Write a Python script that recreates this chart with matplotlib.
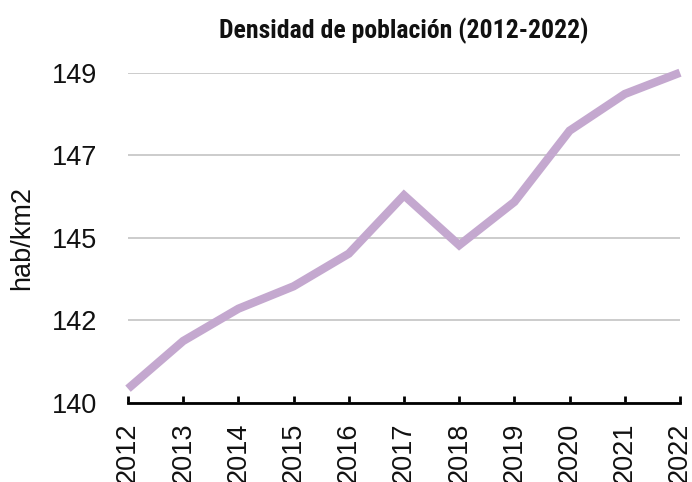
import matplotlib
matplotlib.use("Agg")
import matplotlib.pyplot as plt
from matplotlib import font_manager
import numpy as np

years = [2012, 2013, 2014, 2015, 2016, 2017, 2018, 2019, 2020, 2021, 2022]
density = [140.39, 141.69, 142.57, 143.18, 144.07, 145.66, 144.30, 145.48, 147.42, 148.42, 149.0]
ytick_values = [140.0, 142.25, 144.5, 146.75, 149.0]
ytick_labels = ["140", "142", "145", "147", "149"]
title = "Densidad de población (2012-2022)"
ylabel = "hab/km2"

plt.rcParams['font.family'] = ['Liberation Sans', 'DejaVu Sans']

installed = {f.name for f in font_manager.fontManager.ttflist}
title_family = ['Liberation Sans', 'DejaVu Sans']
for cand in ['Liberation Sans Narrow', 'Roboto Condensed', 'DejaVu Sans Condensed']:
    if cand in installed:
        title_family = [cand] + title_family
        break

fig = plt.figure(figsize=(6.92, 4.82), dpi=100)
ax = fig.add_axes([128/692, 1 - 403/482, (680-128)/692, (403-72.7)/482])

ax.plot(years, density, color="#c4a8cf", lw=6, solid_capstyle="butt",
        solid_joinstyle="miter", clip_on=False, zorder=3)

ax.set_xlim(2012, 2022)
ax.set_ylim(140, 149)
ax.set_yticks(ytick_values)
ax.set_yticklabels(ytick_labels)
ax.set_xticks(years)
ax.set_xticklabels([str(y) for y in years], rotation=90, va="top")

ax.grid(axis="y", color="#c8c8c8", lw=1.3)
ax.set_axisbelow(True)
for s in ["left", "right", "top"]:
    ax.spines[s].set_visible(False)
ax.spines["bottom"].set_color("black")
ax.spines["bottom"].set_linewidth(2)
ax.spines["bottom"].set_zorder(4)

ax.tick_params(axis="y", length=0, pad=22, labelsize=19.5, colors="#111111")
ax.tick_params(axis="x", direction="in", length=5, width=2, pad=14, labelsize=19.5,
               labelcolor="#111111")

fig.text(22/692, 1 - 238/482, ylabel, rotation=90, ha="center", va="center",
         fontsize=19.5, color="#111111")

t = fig.text(404/692, 1 - 31/482, title, ha="center", va="center",
             fontsize=20, fontweight="bold", color="#111111", family=title_family)
fig.canvas.draw()
w = t.get_window_extent(renderer=fig.canvas.get_renderer()).width
target = 369.0
if w > target:
    t.set_fontsize(20 * target / w)

fig.savefig("out.png", dpi=100)
